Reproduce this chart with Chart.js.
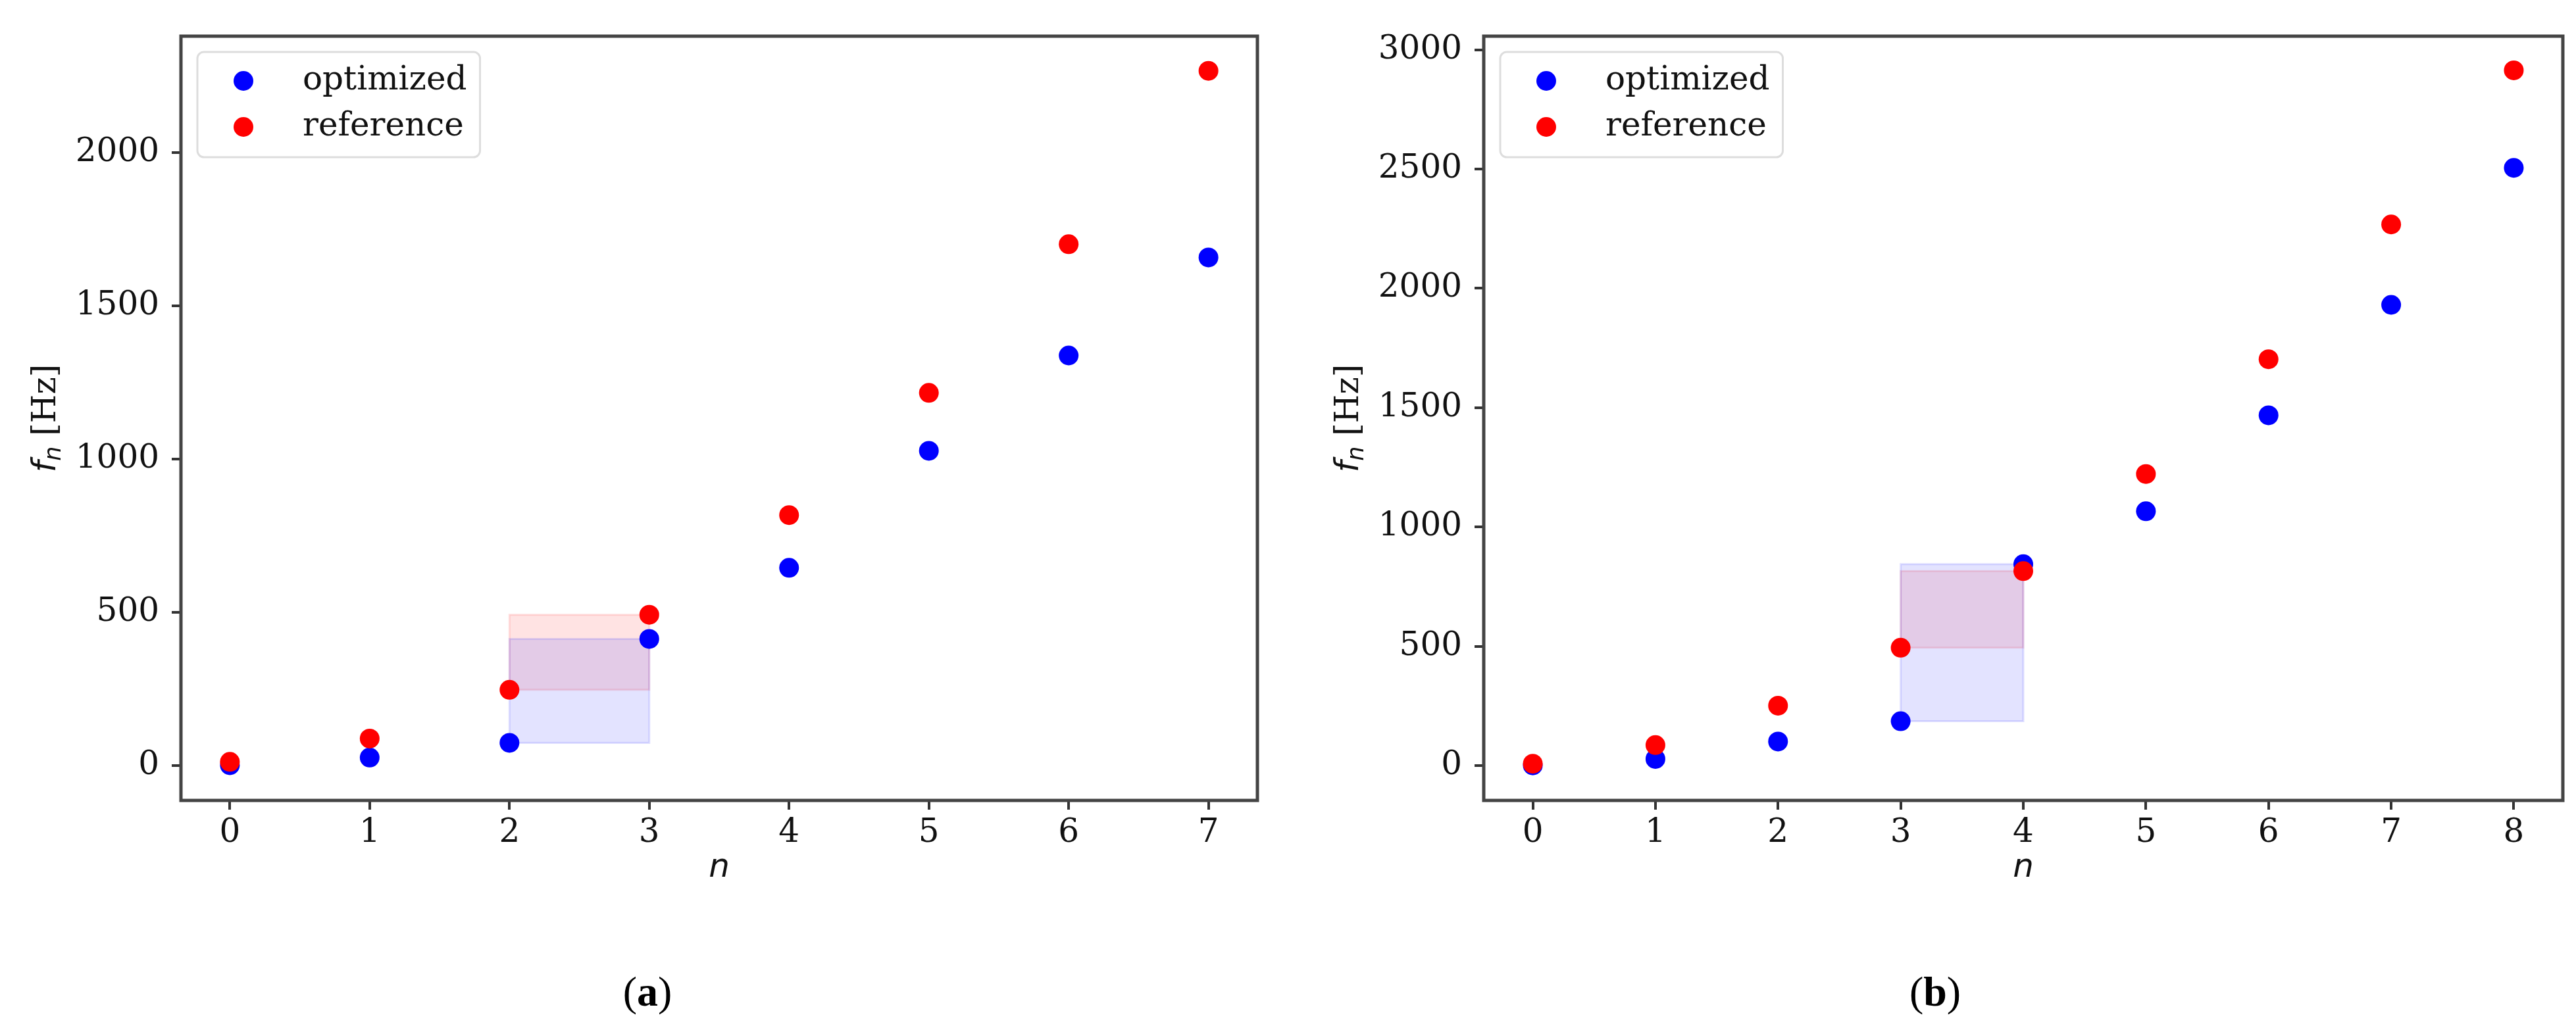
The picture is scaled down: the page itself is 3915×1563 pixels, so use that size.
<!DOCTYPE html>
<html>
<head>
<meta charset="utf-8">
<script src="https://cdn.jsdelivr.net/npm/chart.js@4.4.0/dist/chart.umd.min.js"></script>
<style>
  html, body { margin: 0; padding: 0; background: #fff; }
  #page { position: relative; width: 3915px; height: 1563px; overflow: hidden; background: #fff; }
  canvas { position: absolute; top: 0; }
  #cA { left: 0; }
  #cB { left: 1960px; }
  .cap { position: absolute; top: 1508px; transform: translate(-50%, -50%); line-height: 1;
         font-family: "Liberation Serif", "DejaVu Serif", serif; font-size: 64px; color: #000; }
</style>
</head>
<body>
<div id="page">
  <canvas id="cA" width="1960" height="1400"></canvas>
  <canvas id="cB" width="1955" height="1400"></canvas>
  <div class="cap" style="left:984px">(<b>a</b>)</div>
  <div class="cap" style="left:2941px">(<b>b</b>)</div>
</div>
<script>
// panel (a)
const nA = [0, 1, 2, 3, 4, 5, 6, 7];
const optA = [1, 26, 74, 413, 645, 1027, 1338, 1658];
const refA = [12, 88, 247, 492, 817, 1216, 1701, 2267];
const spanA = [2, 3];
const xTicksA = [0, 1, 2, 3, 4, 5, 6, 7];
const yTicksA = [0, 500, 1000, 1500, 2000];
const xLimA = [-0.35, 7.35];
const yLimA = [-114, 2380];

// panel (b)
const nB = [0, 1, 2, 3, 4, 5, 6, 7, 8];
const optB = [1, 28, 101, 186, 844, 1066, 1468, 1931, 2505];
const refB = [8, 86, 251, 494, 815, 1222, 1703, 2268, 2914];
const spanB = [3, 4];
const xTicksB = [0, 1, 2, 3, 4, 5, 6, 7, 8];
const yTicksB = [0, 500, 1000, 1500, 2000, 2500, 3000];
const xLimB = [-0.4, 8.4];
const yLimB = [-146, 3057];

const BLUE = '#0000ff', RED = '#ff0000';
const TICK_FONT = { family: 'DejaVu Serif', size: 50 };

// legend box, y label and the four spines (matplotlib style)
const frame = {
  id: 'frame',
  afterDraw(chart) {
    const { ctx, chartArea: a } = chart;
    ctx.save();

    const items = chart.data.datasets.filter(d => d.label);
    ctx.font = '50px "DejaVu Serif"';
    const tw = Math.max(...items.map(d => ctx.measureText(d.label).width));
    const bx = a.left + 25, by = a.top + 24;
    const bw = 20 + 100 + 40 + tw + 20, bh = 160;
    ctx.beginPath();
    ctx.roundRect(bx, by, bw, bh, 10);
    ctx.fillStyle = 'rgba(255,255,255,0.85)';
    ctx.fill();
    ctx.strokeStyle = '#dddddd';
    ctx.lineWidth = 3;
    ctx.stroke();
    items.forEach((d, i) => {
      const cy = by + 44 + i * 70;
      ctx.beginPath();
      ctx.arc(bx + 70, cy, 15, 0, Math.PI * 2);
      ctx.fillStyle = d.backgroundColor;
      ctx.fill();
      ctx.fillStyle = '#111';
      ctx.textAlign = 'left';
      ctx.textBaseline = 'middle';
      ctx.fillText(d.label, bx + 160, cy);
    });

    // y label: f_n [Hz]
    ctx.save();
    ctx.translate(a.left - 206, (a.top + a.bottom) / 2);
    ctx.rotate(-Math.PI / 2);
    ctx.textAlign = 'left';
    ctx.textBaseline = 'alphabetic';
    const fMain = 'italic 50px "DejaVu Sans"', fSub = 'italic 35px "DejaVu Sans"', fTxt = '50px "DejaVu Serif"';
    ctx.font = fMain; const w1 = ctx.measureText('f').width;
    ctx.font = fSub;  const w2 = ctx.measureText('n').width;
    ctx.font = fTxt;  const w3 = ctx.measureText(' [Hz]').width;
    let x = -(w1 + w2 + w3) / 2;
    const base = 15;
    ctx.fillStyle = '#111';
    ctx.font = fMain; ctx.fillText('f', x, base); x += w1;
    ctx.font = fSub;  ctx.fillText('n', x, base + 8); x += w2;
    ctx.font = fTxt;  ctx.fillText(' [Hz]', x, base);
    ctx.restore();

    ctx.strokeStyle = '#444';
    ctx.lineWidth = 5;
    ctx.strokeRect(a.left, a.top, a.right - a.left, a.bottom - a.top);
    ctx.restore();
  }
};

function rect(n, vals, span, fill, edge, order) {
  const i0 = n.indexOf(span[0]), i1 = n.indexOf(span[1]);
  const lo = Math.min(vals[i0], vals[i1]), hi = Math.max(vals[i0], vals[i1]);
  return [
    { type: 'line', data: [{ x: span[0], y: hi }, { x: span[1], y: hi }],
      fill: { value: lo }, backgroundColor: fill, borderWidth: 0, pointRadius: 0, order },
    { type: 'line', data: [{ x: span[0], y: lo }, { x: span[0], y: hi }, { x: span[1], y: hi }, { x: span[1], y: lo }, { x: span[0], y: lo }],
      fill: false, borderColor: edge, borderWidth: 3, pointRadius: 0, order }
  ];
}

function makeChart(id, n, opt, ref, span, xLim, yLim, xTicks, yTicks, yWidth, padRight) {
  const pts = arr => n.map((x, i) => ({ x, y: arr[i] }));
  return new Chart(document.getElementById(id), {
    type: 'scatter',
    data: {
      datasets: [
        { label: 'optimized', data: pts(opt), backgroundColor: BLUE, pointRadius: 15, pointBorderWidth: 0, order: 1 },
        { label: 'reference', data: pts(ref), backgroundColor: RED, pointRadius: 15, pointBorderWidth: 0, order: 0 },
        ...rect(n, ref, span, 'rgba(255,0,0,0.11)', 'rgba(255,0,0,0.12)', 3),
        ...rect(n, opt, span, 'rgba(0,0,255,0.11)', 'rgba(0,0,255,0.12)', 2)
      ]
    },
    options: {
      responsive: false,
      devicePixelRatio: 1,
      animation: false,
      events: [],
      layout: { padding: { top: 55, right: padRight, left: 0, bottom: 0 }, autoPadding: false },
      plugins: { legend: { display: false }, tooltip: { enabled: false } },
      scales: {
        x: {
          type: 'linear', min: xLim[0], max: xLim[1], bounds: 'data',
          afterBuildTicks: s => { s.ticks = xTicks.map(v => ({ value: v })); },
          afterFit: s => { s.height = 183; },
          grid: { display: true, drawOnChartArea: false, drawTicks: true, tickLength: 14, color: '#333', lineWidth: 4 },
          border: { display: false },
          ticks: { font: TICK_FONT, color: '#111', padding: 6, maxRotation: 0, autoSkip: false, callback: v => String(v) },
          title: { display: true, text: 'n', color: '#111', font: { family: 'DejaVu Sans', style: 'italic', size: 50 }, padding: { top: 0, bottom: 50 } }
        },
        y: {
          type: 'linear', min: yLim[0], max: yLim[1], bounds: 'data',
          afterBuildTicks: s => { s.ticks = yTicks.map(v => ({ value: v })); },
          afterFit: s => { s.width = yWidth; },
          grid: { display: true, drawOnChartArea: false, drawTicks: true, tickLength: 14, color: '#333', lineWidth: 4 },
          border: { display: false },
          ticks: { font: TICK_FONT, color: '#111', padding: 19, autoSkip: false, callback: v => String(v) }
        }
      }
    },
    plugins: [frame]
  });
}

makeChart('cA', nA, optA, refA, spanA, xLimA, yLimA, xTicksA, yTicksA, 275, 49);
makeChart('cB', nB, optB, refB, spanB, xLimB, yLimB, xTicksB, yTicksB, 295, 20);
</script>
</body>
</html>
